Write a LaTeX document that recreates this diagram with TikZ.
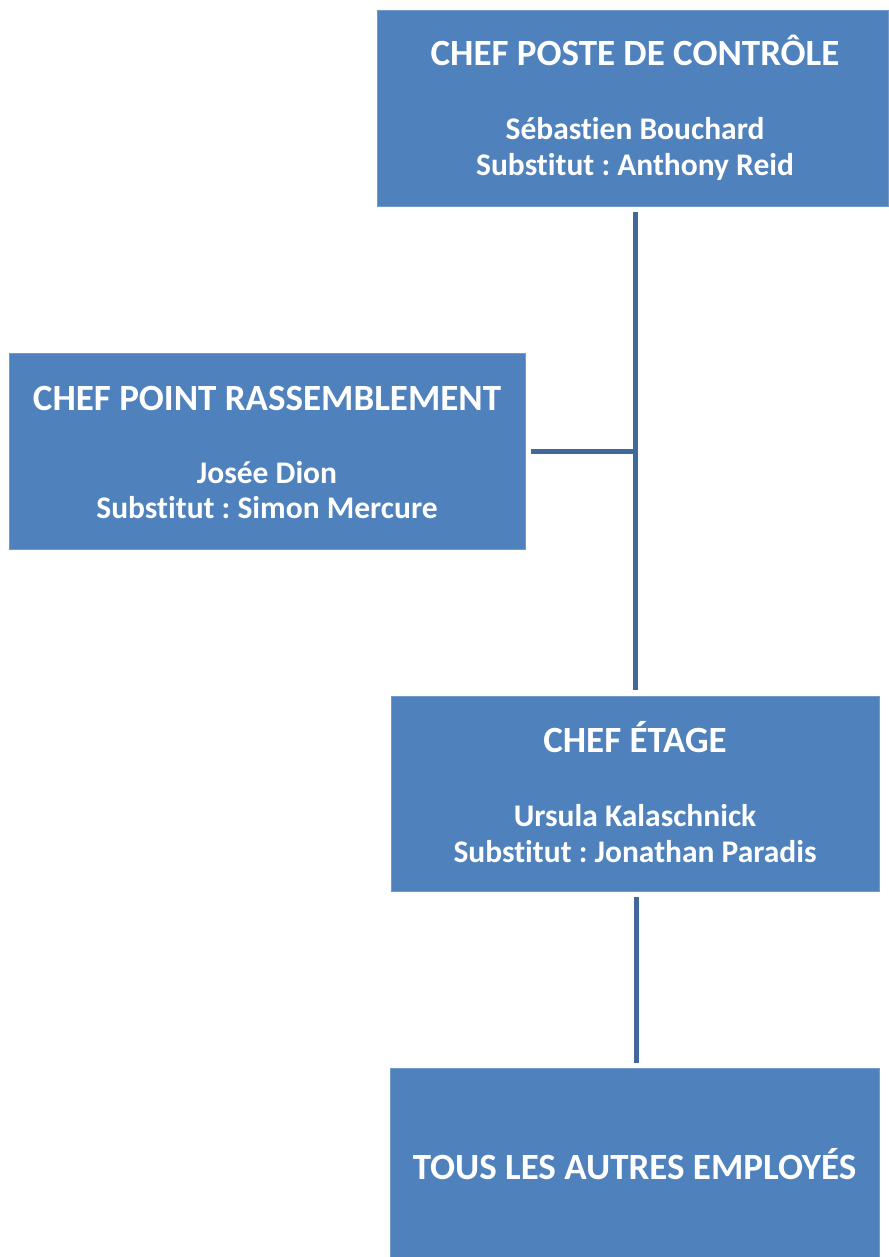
\documentclass[tikz,border=0pt]{standalone}
\usepackage{fontspec}
\setmainfont{Carlito}[Ligatures=NoCommon]
\frenchspacing
\definecolor{boxblue}{HTML}{4F81BD}
\definecolor{lineblue}{HTML}{41689A}
\begin{document}
\begin{tikzpicture}[x=1pt,y=-1pt,
  box/.style={rectangle,fill=boxblue,draw=boxblue!80!white,line width=0.6pt,inner sep=0pt},
  ttl/.style={anchor=base,text=white,font=\fontsize{37}{40}\selectfont\bfseries,inner sep=0pt},
  nm/.style={anchor=base,text=white,font=\fontsize{31.5}{36}\selectfont\bfseries,inner sep=0pt},
  conn/.style={draw=lineblue,line width=5pt}]
\useasboundingbox (0,0) rectangle (888,1257);
% boxes
\node[box,minimum width=511pt,minimum height=196pt] (b1) at (632.5,108) {};
\node[box,minimum width=516pt,minimum height=196pt] (b2) at (267,451) {};
\node[box,minimum width=488pt,minimum height=195pt] (b3) at (635,793.5) {};
\node[box,minimum width=489pt,minimum height=192pt] (b4) at (634.5,1164) {};
% texts
\node[ttl] (t1) at (635,66) {CHEF POSTE DE CONTRÔLE};
\node[nm] (n1a) at (635,139.5) {Sébastien Bouchard};
\node[nm] (n1b) at (635,175.5) {Substitut : Anthony Reid};
\node[ttl] (t2) at (267,410) {CHEF POINT RASSEMBLEMENT};
\node[nm] (n2a) at (267,483.5) {Josée Dion};
\node[nm] (n2b) at (267,518.5) {Substitut : Simon Mercure};
\node[ttl] (t3) at (635,752) {CHEF ÉTAGE};
\node[nm] (n3a) at (635,826.5) {Ursula Kalaschnick};
\node[nm] (n3b) at (635,862.5) {Substitut : Jonathan Paradis};
\node[ttl] (t4) at (634.5,1179) {TOUS LES AUTRES EMPLOYÉS};
% connectors
\draw[conn,shorten <=6pt,shorten >=6pt] (b1.south -| b3.north) -- (b3.north);
\draw[conn,shorten <=6pt] (b2.east) -- ([xshift=2.5pt]b2.east -| b3.north);
\draw[conn,shorten <=6pt,shorten >=5pt] ([xshift=1pt]b3.south) -- ([xshift=1.5pt]b4.north);
\end{tikzpicture}
\end{document}
